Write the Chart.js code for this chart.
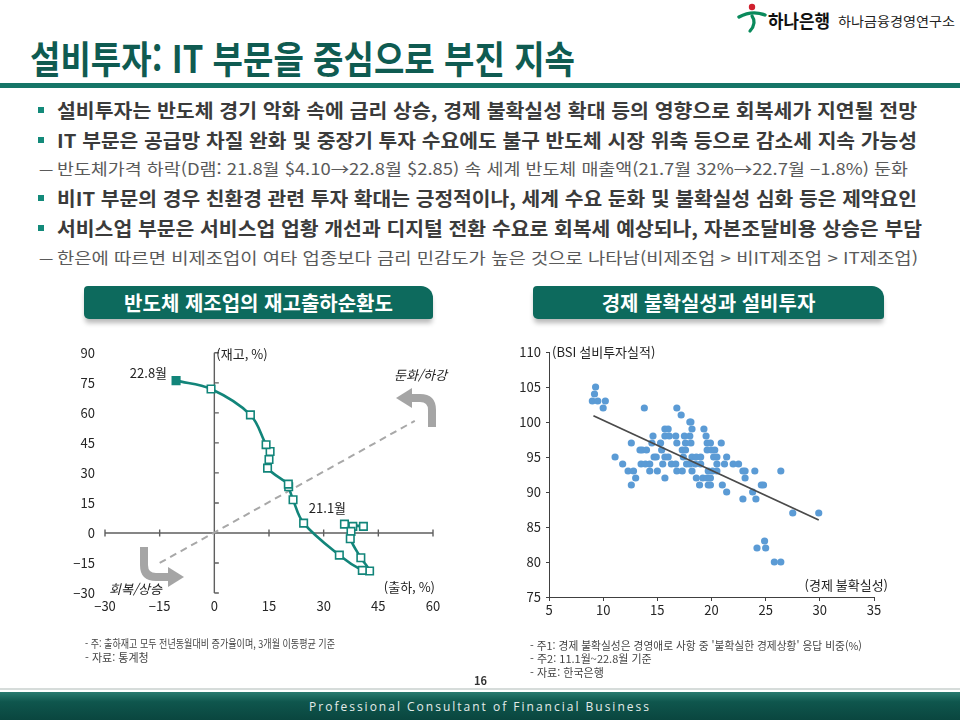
<!DOCTYPE html>
<html lang="ko">
<head>
<meta charset="utf-8">
<script src="https://cdn.jsdelivr.net/npm/chart.js@4.4.1/dist/chart.umd.min.js"></script>
<style>
  html, body { margin: 0; padding: 0; background: #fff; }
  body { width: 960px; height: 720px; position: relative; overflow: hidden;
         font-family: "Noto Sans CJK KR", "Noto Sans", sans-serif; }
  .abs { position: absolute; white-space: nowrap; transform-origin: left center; }
  .title { left: 30px; top: 38px; font-size: 38px; line-height: 38px; font-weight: 700; color: #0f5b51; }
  .band { position: absolute; left: 0; top: 83px; width: 960px; height: 5px; background: #157567; }
  .bl { left: 57px; font-size: 19px; line-height: 20px; font-weight: 700; color: #3b3b3b; }
  .sl { left: 57px; font-size: 16px; line-height: 18px; color: #5a5a5a; }
  .dash { left: 39px; font-size: 16px; line-height: 18px; color: #5a5a5a; }
  .sq { position: absolute; left: 38px; width: 6px; height: 6px; background: #138a7a; }
  .hdr { position: absolute; top: 286px; height: 33px; background: #0d6a5d; color: #fff;
         font-size: 20px; font-weight: 700; line-height: 33px; text-align: center;
         border-radius: 4px 12px 3px 5px; box-shadow: 0 5px 5px -1px rgba(0,0,0,0.28); }
  .note { font-size: 11px; line-height: 12px; color: #444; }
  .foot { position: absolute; left: 0; top: 692px; width: 960px; height: 28px;
          background: linear-gradient(to bottom, #2a7b70 0%, #0f564d 35%, #0a463f 100%); }
  .footline { position: absolute; left: 0; top: 688px; width: 960px; height: 2px; background: #d6dcda; }
  .foottxt { position: absolute; left: 0; top: 698px; width: 960px; text-align: center; color: #e4ecea;
             font-size: 12px; letter-spacing: 2px; font-family: "Open Sans", "DejaVu Sans", sans-serif; }
  #cyc { position: absolute; left: 60px; top: 335px; }
  #bsi { position: absolute; left: 500px; top: 335px; }
</style>
</head>
<body>

<!-- 로고 -->
<svg class="abs" style="left:736px;top:2px" width="32" height="32" viewBox="0 0 32 32">
  <circle cx="16" cy="5" r="3.2" fill="#d0202e"/>
  <path d="M3 15 Q16 8 29 13" stroke="#0a8a5c" stroke-width="3.4" fill="none" stroke-linecap="round"/>
  <path d="M16 14 Q21 21 14 29" stroke="#0a8a5c" stroke-width="3.2" fill="none" stroke-linecap="round"/>
</svg>
<div class="abs" id="logo1" style="left:768px;top:10px;font-size:18px;line-height:20px;font-weight:700;color:#111">하나은행</div>
<div class="abs" id="logo2" style="left:838px;top:13px;font-size:13px;line-height:16px;color:#222">하나금융경영연구소</div>

<div class="abs title" id="title">설비투자: IT 부문을 중심으로 부진 지속</div>
<div class="band"></div>

<div class="sq" style="top:107px"></div>
<div class="abs bl" id="l1" style="top:100px">설비투자는 반도체 경기 악화 속에 금리 상승, 경제 불확실성 확대 등의 영향으로 회복세가 지연될 전망</div>
<div class="sq" style="top:137px"></div>
<div class="abs bl" id="l2" style="top:130px">IT 부문은 공급망 차질 완화 및 중장기 투자 수요에도 불구 반도체 시장 위축 등으로 감소세 지속 가능성</div>
<div class="abs dash" style="top:159px">—</div>
<div class="abs sl" id="s1" style="top:159px">반도체가격 하락(D램: 21.8월 $4.10→22.8월 $2.85) 속 세계 반도체 매출액(21.7월 32%→22.7월 −1.8%) 둔화</div>
<div class="sq" style="top:195px"></div>
<div class="abs bl" id="l4" style="top:188px">비IT 부문의 경우 친환경 관련 투자 확대는 긍정적이나, 세계 수요 둔화 및 불확실성 심화 등은 제약요인</div>
<div class="sq" style="top:225px"></div>
<div class="abs bl" id="l5" style="top:218px">서비스업 부문은 서비스업 업황 개선과 디지털 전환 수요로 회복세 예상되나, 자본조달비용 상승은 부담</div>
<div class="abs dash" style="top:248px">—</div>
<div class="abs sl" id="s2" style="top:248px">한은에 따르면 비제조업이 여타 업종보다 금리 민감도가 높은 것으로 나타남(비제조업 &gt; 비IT제조업 &gt; IT제조업)</div>

<div class="hdr" style="left:84px;width:349px">반도체 제조업의 재고출하순환도</div>
<div class="hdr" style="left:533px;width:351px">경제 불확실성과 설비투자</div>

<canvas id="cyc" width="390" height="285"></canvas>
<canvas id="bsi" width="400" height="285"></canvas>

<!-- 회복/둔화 방향 화살표 -->
<svg class="abs" style="left:0;top:0;pointer-events:none" width="960" height="720">
  <path d="M432 427 L432 410 Q432 398 420 398 L411 398" stroke="#a5a5a5" stroke-width="8" fill="none"/>
  <polygon points="396,398 412,388 412,408" fill="#a5a5a5"/>
  <path d="M144 547 L144 565 Q144 577 156 577 L168 577" stroke="#a5a5a5" stroke-width="8" fill="none"/>
  <polygon points="184,577 168,567 168,587" fill="#a5a5a5"/>
</svg>

<div class="abs note" id="n1" style="left:85px;top:637px">- 주: 출하재고 모두 전년동월대비 증가율이며, 3개월 이동평균 기준</div>
<div class="abs note" style="left:85px;top:651px">- 자료: 통계청</div>
<div class="abs note" id="n3" style="left:530px;top:639px">- 주1: 경제 불확실성은 경영애로 사항 중 '불확실한 경제상황' 응답 비중(%)</div>
<div class="abs note" style="left:530px;top:652px">- 주2: 11.1월~22.8월 기준</div>
<div class="abs note" style="left:530px;top:666px">- 자료: 한국은행</div>
<div class="abs" style="left:474px;top:674px;font-size:11px;line-height:12px;font-weight:700;color:#333">16</div>

<div class="footline"></div>
<div class="foot"></div>
<div class="foottxt">Professional Consultant of Financial Business</div>

<script>
// 재고출하순환도: 21.1월 ~ 22.8월 (전년동월대비, 3개월 이동평균)
const cycleMonths = ['21.1', '21.2', '21.3', '21.4', '21.5', '21.6', '21.7', '21.8', '21.9', '21.10',
                     '21.11', '21.12', '22.1', '22.2', '22.3', '22.4', '22.5', '22.6', '22.7', '22.8'];
const shipmentYoY = [35.7, 40.9, 38.0, 37.5, 37.3, 40.2, 42.6, 40.6, 34.3, 24.5,
                     21.6, 20.4, 20.3, 14.6, 15.0, 15.3, 14.2, 9.9, -0.9, -10.5];
const inventoryYoY = [4.4, 3.3, 3.3, 0.8, -2.9, -12.4, -19.0, -18.7, -11.1, 4.9,
                      16.6, 23.1, 24.4, 32.4, 36.7, 40.7, 44.1, 59.0, 71.9, 76.1];
// 45도 기준선
const diagX = [-15, 55];
const diagY = [-15, 56];
const cycleXTicks = [-30, -15, 0, 15, 30, 45, 60];
const cycleYTicks = [-30, -15, 0, 15, 30, 45, 60, 75, 90];

// 경제 불확실성(x) vs BSI 설비투자실적(y)
const bsiX = [9.0, 9.2, 9.3, 9.5, 10.2, 10.0, 11.1, 11.8, 12.3, 12.6,
              12.6, 12.8, 13.0, 13.4, 13.6, 13.8, 14.0, 13.5, 13.9, 14.3,
              14.3, 14.6, 14.5, 14.7, 14.9, 15.0, 15.3, 15.4, 15.5, 15.7,
              16.0, 15.7, 16.1, 15.7, 16.0, 15.7, 16.3, 16.7, 16.7, 16.8,
              16.8, 16.8, 17.2, 17.3, 17.4, 17.5, 17.6, 17.6, 17.3, 17.7,
              18.0, 18.1, 18.0, 18.1, 18.2, 18.0, 18.2, 18.2, 18.5, 18.6,
              18.6, 18.9, 19.0, 19.0, 19.2, 19.3, 19.5, 19.6, 19.6, 19.7,
              19.6, 19.7, 19.9, 19.9, 20.0, 19.9, 20.1, 20.2, 20.3, 20.5,
              20.5, 20.5, 20.9, 21.0, 21.2, 21.4, 21.4, 22.0, 22.5, 22.9,
              23.1, 23.1, 22.9, 23.8, 24.0, 24.1, 24.2, 24.6, 24.8, 24.9,
              25.0, 25.8, 26.4, 26.4, 27.5, 29.9];
const bsiY = [103, 104, 105, 103, 103, 102, 95, 94, 93, 97,
              91, 93, 92, 96, 96, 102, 96, 94, 94, 94,
              93, 98, 97, 95, 95, 93, 97, 96, 94, 99,
              99, 98, 98, 95, 95, 92, 94, 98, 94, 102,
              97, 93, 101, 96, 95, 98, 97, 96, 93, 94,
              100, 100, 98, 97, 99, 94, 93, 95, 94, 95,
              92, 91, 95, 94, 92, 99, 98, 97, 96, 93,
              92, 91, 91, 97, 96, 92, 93, 95, 96, 94,
              95, 93, 97, 91, 94, 95, 90, 94, 94, 93,
              93, 92, 89, 90, 93, 89, 82, 91, 91, 83,
              82, 80, 80, 93, 87, 87];
// 추세선 양 끝
const trendX = [9.1, 29.9];
const trendY = [100.9, 86.0];
const bsiXTicks = [5, 10, 15, 20, 25, 30, 35];
const bsiYTicks = [75, 80, 85, 90, 95, 100, 105, 110];

const TEAL = '#12857a';
const FONT = '"Noto Sans CJK KR", "Noto Sans", sans-serif';
Chart.defaults.font.family = FONT;
Chart.defaults.font.size = 13;
Chart.defaults.color = '#262626';
Chart.defaults.animation = false;

const pts = (xs, ys) => xs.map((v, i) => ({x: v, y: ys[i]}));
const minus = v => v < 0 ? '\u2212' + Math.abs(v) : '' + v;
const fixTicks = arr => s => { s.ticks = arr.map(v => ({value: v})); };

// 원점을 지나는 축과 눈금, 주석
const crossAxes = {
  id: 'crossAxes',
  beforeDatasetsDraw(chart) {
    const {ctx, chartArea: a, scales: {x, y}} = chart;
    const x0 = x.getPixelForValue(0), y0 = y.getPixelForValue(0);
    ctx.save();
    ctx.strokeStyle = '#5f5f5f';
    ctx.lineWidth = 1.4;
    ctx.beginPath();
    ctx.moveTo(a.left, y0); ctx.lineTo(a.right, y0);
    ctx.moveTo(x0, a.top); ctx.lineTo(x0, a.bottom);
    x.ticks.forEach(t => {
      const px = x.getPixelForValue(t.value);
      ctx.moveTo(px, y0 - 3.5); ctx.lineTo(px, y0 + 3.5);
    });
    y.ticks.forEach(t => {
      const py = y.getPixelForValue(t.value);
      ctx.moveTo(x0, py); ctx.lineTo(x0 + 4.5, py);
    });
    ctx.stroke();
    ctx.restore();
  },
  afterDatasetsDraw(chart) {
    const {ctx, chartArea: a, scales: {x, y}} = chart;
    const meta = chart.getDatasetMeta(1).data;
    const first = meta[0], last = meta[meta.length - 1];
    ctx.save();
    ctx.fillStyle = '#222';
    ctx.font = '13px ' + FONT;
    ctx.textBaseline = 'middle';
    ctx.textAlign = 'right';
    ctx.fillText(cycleMonths[cycleMonths.length - 1] + '월', last.x - 9, last.y - 8);
    ctx.textAlign = 'center';
    ctx.fillText(cycleMonths[0] + '월', first.x - 17, first.y - 16);
    ctx.textAlign = 'left';
    ctx.fillText('(재고, %)', x.getPixelForValue(0) + 2, a.top + 1);
    ctx.textAlign = 'right';
    ctx.fillText('(출하, %)', a.right + 2, y.getPixelForValue(-30) - 6);
    ctx.font = 'italic 13px ' + FONT;
    ctx.fillText('둔화/하강', a.right + 14, y.getPixelForValue(79));
    ctx.textAlign = 'left';
    ctx.fillText('회복/상승', a.left + 4, y.getPixelForValue(-30) - 4);
    ctx.restore();
  }
};

new Chart(document.getElementById('cyc'), {
  type: 'scatter',
  data: {
    datasets: [{
      data: pts(diagX, diagY),
      showLine: true,
      borderColor: '#a8a8a8',
      borderWidth: 2,
      borderDash: [7, 5],
      pointRadius: 0,
      order: 2
    }, {
      data: pts(shipmentYoY, inventoryYoY),
      showLine: true,
      tension: 0.35,
      borderColor: TEAL,
      borderWidth: 2.6,
      pointStyle: 'rect',
      pointRadius: 5.3,
      pointBorderWidth: 1.6,
      pointBorderColor: TEAL,
      pointBackgroundColor: shipmentYoY.map((v, i) => i === shipmentYoY.length - 1 ? TEAL : '#fff'),
      order: 1
    }]
  },
  options: {
    responsive: false,
    layout: {padding: {top: 12, right: 17, left: 0, bottom: 0}},
    plugins: {legend: {display: false}, tooltip: {enabled: false}},
    scales: {
      x: {
        type: 'linear', min: -30, max: 60,
        afterBuildTicks: fixTicks(cycleXTicks),
        afterFit: s => { s.height = 27; },
        grid: {display: false, drawTicks: false},
        border: {display: false},
        ticks: {padding: 5, callback: minus}
      },
      y: {
        type: 'linear', min: -30, max: 90,
        afterBuildTicks: fixTicks(cycleYTicks),
        afterFit: s => { s.width = 45; },
        grid: {display: false, drawTicks: false},
        border: {display: false},
        ticks: {padding: 10, callback: minus}
      }
    }
  },
  plugins: [crossAxes]
});

const bsiLabels = {
  id: 'bsiLabels',
  afterDatasetsDraw(chart) {
    const {ctx, chartArea: a, scales: {y}} = chart;
    ctx.save();
    ctx.fillStyle = '#222';
    ctx.font = '13px ' + FONT;
    ctx.textBaseline = 'middle';
    ctx.textAlign = 'left';
    ctx.fillText('(BSI 설비투자실적)', a.left + 3, y.getPixelForValue(110));
    ctx.textAlign = 'right';
    ctx.fillText('(경제 불확실성)', a.right + 14, y.getPixelForValue(75) - 12);
    ctx.restore();
  }
};

new Chart(document.getElementById('bsi'), {
  type: 'scatter',
  data: {
    datasets: [{
      data: pts(trendX, trendY),
      showLine: true,
      borderColor: '#4a4a4a',
      borderWidth: 1.8,
      pointRadius: 0,
      order: 0
    }, {
      data: pts(bsiX, bsiY),
      pointRadius: 3.6,
      pointBorderWidth: 0,
      pointBackgroundColor: '#5b9bd5',
      order: 1
    }]
  },
  options: {
    responsive: false,
    layout: {padding: {top: 17, right: 26, left: 0, bottom: 0}},
    plugins: {legend: {display: false}, tooltip: {enabled: false}},
    scales: {
      x: {
        type: 'linear', min: 5, max: 35,
        afterBuildTicks: fixTicks(bsiXTicks),
        afterFit: s => { s.height = 23; },
        grid: {drawOnChartArea: false, drawTicks: true, tickLength: 4, color: '#404040'},
        border: {display: true, color: '#404040', width: 1},
        ticks: {padding: 1}
      },
      y: {
        type: 'linear', min: 75, max: 110,
        afterBuildTicks: fixTicks(bsiYTicks),
        afterFit: s => { s.width = 49; },
        grid: {drawOnChartArea: false, drawTicks: true, tickLength: 3, color: '#404040'},
        border: {display: true, color: '#404040', width: 1},
        ticks: {padding: 5}
      }
    }
  },
  plugins: [bsiLabels]
});

// 원본 줄 길이에 맞추기
function fit(id, w) {
  const el = document.getElementById(id);
  const cur = el.getBoundingClientRect().width;
  if (cur > 0) el.style.transform = 'scaleX(' + (w / cur) + ')';
}
fit('title', 545);
fit('l1', 860); fit('l2', 860); fit('l4', 860); fit('l5', 865);
fit('s1', 851); fit('s2', 861);
fit('n1', 250); fit('n3', 332);
fit('logo1', 62); fit('logo2', 117);
</script>
</body>
</html>
